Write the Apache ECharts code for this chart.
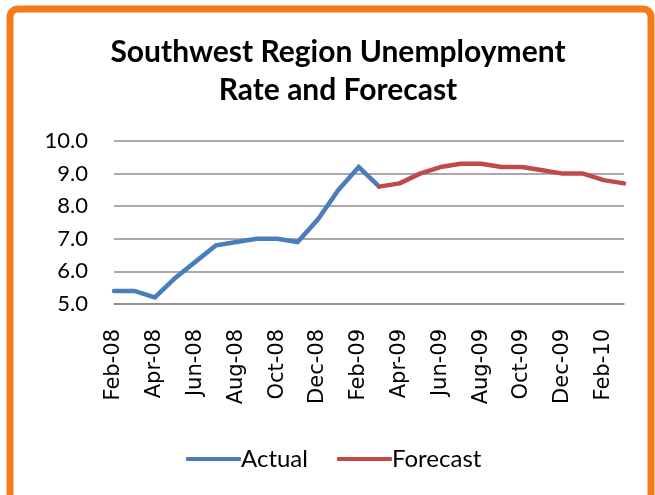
<!DOCTYPE html>
<html>
<head>
<meta charset="utf-8">
<script src="https://cdn.jsdelivr.net/npm/echarts@6/dist/echarts.min.js"></script>
<style>
  html, body { margin: 0; padding: 0; background: #fff; }
  #chart { width: 655px; height: 495px; }
</style>
</head>
<body>
<div id="chart"></div>
<script>
const categories = ['Feb-08','Mar-08','Apr-08','May-08','Jun-08','Jul-08','Aug-08','Sep-08','Oct-08','Nov-08','Dec-08','Jan-09','Feb-09','Mar-09','Apr-09','May-09','Jun-09','Jul-09','Aug-09','Sep-09','Oct-09','Nov-09','Dec-09','Jan-10','Feb-10','Mar-10'];
const actual = [5.4, 5.4, 5.2, 5.8, 6.3, 6.8, 6.9, 7.0, 7.0, 6.9, 7.6, 8.5, 9.2, 8.6, null, null, null, null, null, null, null, null, null, null, null, null];
const forecast = [null, null, null, null, null, null, null, null, null, null, null, null, null, 8.6, 8.7, 9.0, 9.2, 9.3, 9.3, 9.2, 9.2, 9.1, 9.0, 9.0, 8.8, 8.7];
const yTicks = [5.0, 6.0, 7.0, 8.0, 9.0, 10.0];

const chart = echarts.init(document.getElementById('chart'), null, { renderer: 'canvas' });
chart.setOption({
  animation: false,
  backgroundColor: '#ffffff',
  title: {
    text: 'Southwest Region Unemployment\nRate and Forecast',
    left: 333,
    top: 28,
    textAlign: 'center',
    textStyle: { fontFamily: 'Lato', fontWeight: 'bold', fontSize: 30, lineHeight: 38, color: '#000' }
  },
  graphic: [{
    type: 'rect',
    shape: { x: 10, y: 9, width: 641, height: 500, r: 8 },
    style: { fill: 'none', stroke: '#F47B16', lineWidth: 7 },
    silent: true
  }],
  legend: {
    data: ['Actual', 'Forecast'],
    left: 181,
    top: 442,
    icon: 'roundRect',
    itemWidth: 55,
    itemHeight: 4,
    itemGap: 29,
    textStyle: { fontFamily: 'Lato', fontSize: 24, color: '#000', padding: [0, 0, 0, -5] }
  },
  grid: { left: 114, right: 31, top: 141, bottom: 191, containLabel: false },
  xAxis: {
    type: 'category',
    data: categories,
    boundaryGap: false,
    axisLine: { lineStyle: { color: '#868686', width: 1.5 } },
    axisTick: { show: false },
    axisLabel: {
      rotate: 90,
      interval: 1,
      margin: 25,
      fontFamily: 'DejaVu Sans',
      fontSize: 21,
      color: '#000'
    },
    splitLine: { show: false }
  },
  yAxis: {
    type: 'value',
    min: yTicks[0],
    max: yTicks[yTicks.length - 1],
    interval: 1,
    axisLine: { show: false },
    axisTick: { show: false },
    axisLabel: {
      margin: 26,
      fontFamily: 'Lato',
      fontSize: 22,
      color: '#000',
      formatter: v => v.toFixed(1)
    },
    splitLine: { lineStyle: { color: '#8c8c8c', width: 1.5 } }
  },
  series: [
    {
      name: 'Actual', type: 'line', data: actual, showSymbol: false, symbol: 'none',
      connectNulls: false,
      lineStyle: { color: '#4A7EBB', width: 4.5, cap: 'round', join: 'miter' },
      itemStyle: { color: '#4A7EBB' }
    },
    {
      name: 'Forecast', type: 'line', data: forecast, showSymbol: false, symbol: 'none',
      connectNulls: false,
      lineStyle: { color: '#BE4B48', width: 4.5, cap: 'round', join: 'round' },
      itemStyle: { color: '#BE4B48' }
    }
  ]
});
</script>
</body>
</html>
